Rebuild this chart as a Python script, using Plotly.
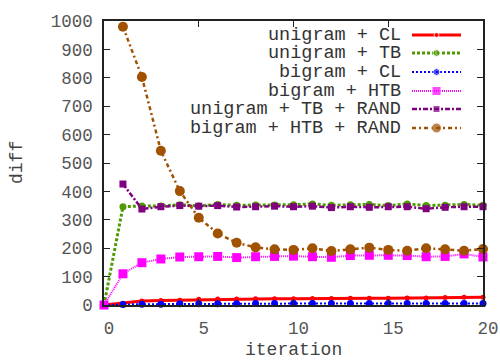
import plotly.graph_objects as go

iterations = list(range(21))
rand_iterations = list(range(1, 21))

unigram_cl = [0, 6, 14, 16, 17, 20, 21, 21, 22, 22, 22, 23, 23, 24, 24, 24, 25, 25, 26, 27, 27]
unigram_tb = [0, 346, 349, 349, 353, 349, 354, 351, 352, 352, 353, 356, 351, 353, 354, 350, 356, 350, 351, 354, 351]
bigram_cl = [0, 2, 3, 3, 4, 4, 4, 4, 5, 5, 5, 5, 5, 5, 5, 5, 5, 5, 5, 5, 5]
bigram_htb = [0, 110, 149, 162, 169, 170, 171, 167, 170, 171, 172, 170, 168, 174, 175, 175, 174, 170, 171, 180, 169]
unigram_tb_rand = [426, 338, 346, 350, 348, 350, 345, 346, 348, 346, 348, 343, 346, 344, 346, 346, 339, 344, 346, 346]
bigram_htb_rand = [980, 803, 543, 401, 307, 252, 219, 203, 196, 194, 200, 190, 196, 202, 194, 191, 200, 196, 191, 197]

series_names = ["unigram + CL", "unigram + TB", "bigram + CL", "bigram + HTB",
                "unigram + TB + RAND", "bigram + HTB + RAND"]
x_ticks = [0, 5, 10, 15, 20]
y_ticks = list(range(0, 1001, 100))

FONT = "Liberation Mono"
styles = [
    dict(color="#ff0000", width=3, dash="solid", symbol="circle", size=5),
    dict(color="#4f9a00", width=3, dash="3px,2px", symbol="circle", size=7),
    dict(color="#0000ff", width=2, dash="2px,2px", symbol="circle", size=7),
    dict(color="#ff00ff", width=2, dash="1px,1px", symbol="square", size=9),
    dict(color="#800080", width=2.5, dash="5px,2px,2px,2px", symbol="square", size=7),
    dict(color="#a05200", width=2.5, dash="4px,3px,2px,3px", symbol="circle", size=10),
]
data = [
    (iterations, unigram_cl),
    (iterations, unigram_tb),
    (iterations, bigram_cl),
    (iterations, bigram_htb),
    (rand_iterations, unigram_tb_rand),
    (rand_iterations, bigram_htb_rand),
]

fig = go.Figure()
for (xs, ys), st, name in zip(data, styles, series_names):
    fig.add_trace(go.Scatter(
        x=xs, y=ys, mode="lines+markers", name=name, showlegend=False,
        line=dict(color=st["color"], width=st["width"], dash=st["dash"]),
        marker=dict(color=st["color"], symbol=st["symbol"], size=st["size"]),
        cliponaxis=False,
    ))

# gnuplot-style legend (text on left, sample on right)
legend_rows = [0.9507, 0.8873, 0.8204, 0.7535, 0.6901, 0.6232]
x0, x1 = 0.8127, 0.9420
for st, name, yr in zip(styles, series_names, legend_rows):
    fig.add_trace(go.Scatter(
        x=[x0, (x0 + x1) / 2, x1], y=[yr, yr, yr], xaxis="x2", yaxis="y2",
        mode="lines+markers", showlegend=False, hoverinfo="skip",
        line=dict(color=st["color"], width=st["width"], dash=st["dash"]),
        marker=dict(color=st["color"], symbol=st["symbol"], size=[0, st["size"], 0]),
        cliponaxis=False,
    ))
    fig.add_annotation(x=0.789, y=yr, xref="paper", yref="paper", xanchor="right",
                       yanchor="middle", text=name, showarrow=False,
                       font=dict(family=FONT, size=18.5, color="#333333"))

fig.add_annotation(x=0, y=0.5, xref="paper", yref="paper", xshift=-87, textangle=-90,
                   text="diff", showarrow=False, xanchor="center", yanchor="middle",
                   font=dict(family=FONT, size=18, color="#444444"))
fig.add_annotation(x=0.5, y=0, xref="paper", yref="paper", yshift=-45,
                   text="iteration", showarrow=False, xanchor="center", yanchor="middle",
                   font=dict(family=FONT, size=18, color="#444444"))

axis_common = dict(showgrid=False, zeroline=False, showline=True, linecolor="#222222",
                   linewidth=1.5, mirror="ticks", ticks="inside", ticklen=6,
                   tickcolor="#222222", tickwidth=1, automargin=False,
                   tickfont=dict(family=FONT, size=17.5, color="#555555"))
fig.update_layout(
    width=500, height=360, autosize=False,
    margin=dict(l=104, r=17, t=21, b=55, pad=0, autoexpand=False),
    plot_bgcolor="white", paper_bgcolor="white",
    xaxis=dict(range=[0, 20], tickvals=x_ticks, ticklabelshift=5,
               ticklabelstandoff=6, **axis_common),
    yaxis=dict(range=[0, 1000], tickvals=y_ticks, ticklabelstandoff=6, **axis_common),
    xaxis2=dict(range=[0, 1], overlaying="x", visible=False, fixedrange=True),
    yaxis2=dict(range=[0, 1], overlaying="y", visible=False, fixedrange=True),
)

fig.write_html("out.html", config={"displayModeBar": False},
               post_script="document.body.style.margin='0';")
